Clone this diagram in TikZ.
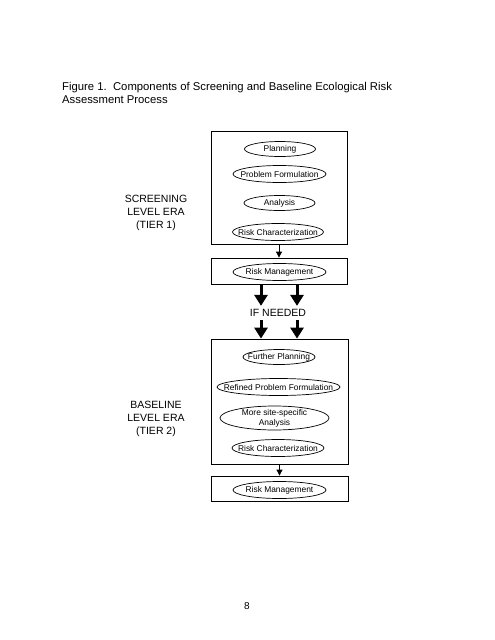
\documentclass[tikz,border=0pt]{standalone}
\usepackage{fontspec}
\setmainfont{Liberation Sans}
\usetikzlibrary{arrows.meta,shapes.geometric}
\definecolor{ink}{HTML}{000000}
\tikzset{
  panel/.style={draw=ink, line width=0.8pt, inner sep=0pt},
  oval/.style 2 args={ellipse, draw=ink, line width=0.7pt, inner sep=0pt,
    minimum width=#1, minimum height=#2},
  lab/.style={text=ink, font=\fontsize{8.4}{9.8}\selectfont, align=center, inner sep=0pt},
  tier/.style={text=ink, font=\fontsize{10.5}{13}\selectfont, align=center},
  link/.style={draw=ink, line width=0.8pt, -{Triangle[width=6pt,length=6pt]}},
  bigarrow/.style={draw=ink, line width=3pt, -{Triangle[width=13pt,length=11pt]}}
}

\begin{document}
\begin{tikzpicture}[x=1pt,y=-1pt]
  \useasboundingbox (0,0) rectangle (495,640);

  \node[text=ink, font=\fontsize{11.3}{13}\selectfont, align=left, anchor=north west,
    inner sep=0pt] (title) at (62,82)
    {Figure 1.\ \ Components of Screening and Baseline Ecological Risk\\Assessment Process};

  % screening tier
  \node[panel, minimum width=136, minimum height=113] (tier1) at (279,187.5) {};
  \node[oval={71}{15}, label={[lab]center:Planning}] (plan1) at (280,149) {};
  \node[oval={93}{17}, label={[lab]center:Problem Formulation}] (pf1) at (279.5,174) {};
  \node[oval={71}{15}, label={[lab]center:Analysis}] (an1) at (279.5,203) {};
  \node[oval={91}{17}, label={[lab]center:Risk Characterization}] (rc1) at (278,232) {};
  \node[tier] (lab1) at (156,213) {SCREENING\\LEVEL ERA\\(TIER 1)};

  \node[panel, minimum width=136, minimum height=26] (mgmt1) at (279,271) {};
  \node[oval={93}{17}, label={[lab]center:Risk Management}] (rm1) at (279.5,272) {};
  \draw[link] (tier1) -- (mgmt1);

  % if needed
  \node[tier] (ifn) at (278,313) {IF NEEDED};
  \coordinate (lft) at (261,0);
  \coordinate (rgt) at (297,0);

  % baseline tier
  \node[panel, minimum width=137, minimum height=125] (tier2) at (279.5,401.5) {};
  \node[oval={72}{15}, label={[lab]center:Further Planning}] (plan2) at (279,357) {};
  \node[oval={123}{17}, label={[lab]center:Refined Problem Formulation}] (pf2) at (278.5,387) {};
  \node[oval={109}{24}, label={[lab]center:{More site-specific\\Analysis}}] (an2) at (274.5,418) {};
  \node[oval={92}{17}, label={[lab]center:Risk Characterization}] (rc2) at (278,448) {};
  \node[tier] (lab2) at (156,419) {BASELINE\\LEVEL ERA\\(TIER 2)};

  \node[panel, minimum width=137, minimum height=25] (mgmt2) at (279.5,488.5) {};
  \node[oval={93}{17}, label={[lab]center:Risk Management}] (rm2) at (279.5,490) {};
  \draw[link] (tier2) -- (mgmt2);

  \draw[bigarrow] (lft |- mgmt1.south) -- (lft |- ifn.north);
  \draw[bigarrow] (rgt |- mgmt1.south) -- (rgt |- ifn.north);
  \draw[bigarrow] (lft |- ifn.south) -- (lft |- tier2.north);
  \draw[bigarrow] (rgt |- ifn.south) -- (rgt |- tier2.north);

  \node[text=ink, font=\fontsize{10}{12}\selectfont] (page) at (247,606) {8};
\end{tikzpicture}
\end{document}
